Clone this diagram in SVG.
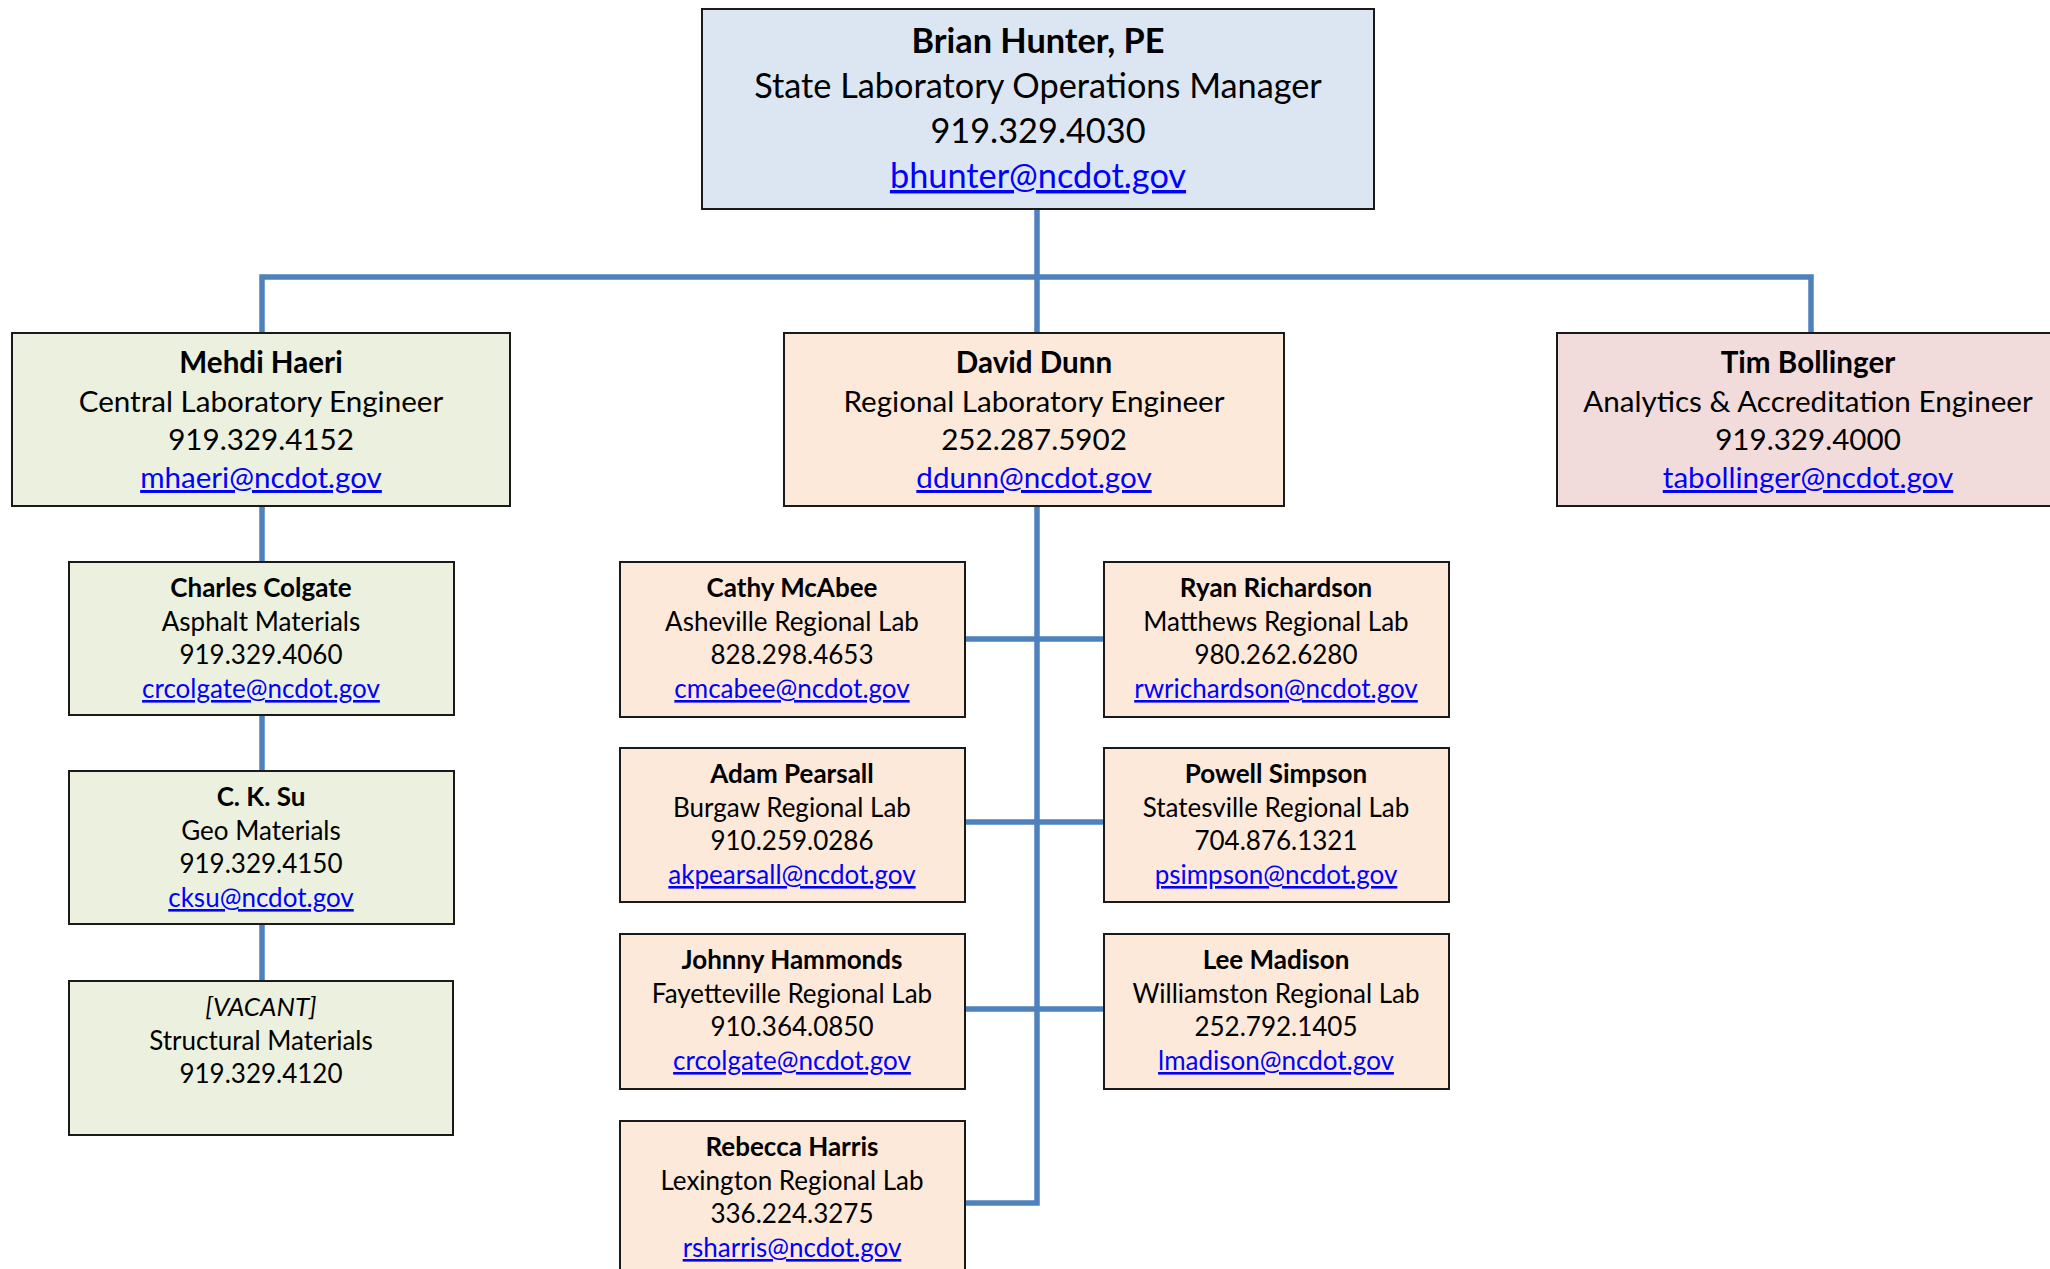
<svg xmlns="http://www.w3.org/2000/svg" width="2050" height="1269" viewBox="0 0 2050 1269">
<style>
.box{stroke:#1a1a1a;stroke-width:2}
.blue{fill:#DCE6F2}.green{fill:#EBF1DE}.peach{fill:#FDE9D9}.pink{fill:#F2DCDB}
text{font-family:Lato,"Liberation Sans",sans-serif;text-anchor:middle;fill:#000}
.t1{font-size:34.3px}.t2{font-size:29.6px}.t3{font-size:26px}
.b{font-weight:bold}.i{font-style:italic}
.m{fill:#0000FF;text-decoration:underline}
.c{fill:none;stroke:#4F81BD;stroke-width:5.5}
</style>
<rect width="2050" height="1269" fill="#fff"/>
<g id="connectors">
<path class="c" d="M1037,209 V333"/>
<path class="c" d="M262,333 V277 H1811 V333"/>
<path class="c" d="M262,506 V562 M262,715 V771 M262,924 V981"/>
<path class="c" d="M1037,506 V1203 H965"/>
<path class="c" d="M965,639 H1104 M965,822 H1104 M965,1009 H1104"/>
</g>
<g id="brian-hunter">
<rect class="box blue" x="702" y="9" width="672" height="200"/>
<text class="t1 b" x="1038" y="53">Brian Hunter, PE</text>
<text class="t1" x="1038" y="98">State Laboratory Operations Manager</text>
<text class="t1" x="1038" y="143">919.329.4030</text>
<text class="t1 m" x="1038" y="188">bhunter@ncdot.gov</text>
</g>
<g id="mehdi-haeri">
<rect class="box green" x="12" y="333" width="498" height="173"/>
<text class="t2 b" x="261" y="373">Mehdi Haeri</text>
<text class="t2" x="261" y="412">Central Laboratory Engineer</text>
<text class="t2" x="261" y="450">919.329.4152</text>
<text class="t2 m" x="261" y="488">mhaeri@ncdot.gov</text>
</g>
<g id="david-dunn">
<rect class="box peach" x="784" y="333" width="500" height="173"/>
<text class="t2 b" x="1034" y="373">David Dunn</text>
<text class="t2" x="1034" y="412">Regional Laboratory Engineer</text>
<text class="t2" x="1034" y="450">252.287.5902</text>
<text class="t2 m" x="1034" y="488">ddunn@ncdot.gov</text>
</g>
<g id="tim-bollinger">
<rect class="box pink" x="1557" y="333" width="502" height="173"/>
<text class="t2 b" x="1808" y="373">Tim Bollinger</text>
<text class="t2" x="1808" y="412">Analytics &amp; Accreditation Engineer</text>
<text class="t2" x="1808" y="450">919.329.4000</text>
<text class="t2 m" x="1808" y="488">tabollinger@ncdot.gov</text>
</g>
<g id="charles-colgate">
<rect class="box green" x="69" y="562" width="385" height="153"/>
<text class="t3 b" x="261" y="597">Charles Colgate</text>
<text class="t3" x="261" y="631">Asphalt Materials</text>
<text class="t3" x="261" y="664">919.329.4060</text>
<text class="t3 m" x="261" y="698">crcolgate@ncdot.gov</text>
</g>
<g id="ck-su">
<rect class="box green" x="69" y="771" width="385" height="153"/>
<text class="t3 b" x="261" y="806">C. K. Su</text>
<text class="t3" x="261" y="840">Geo Materials</text>
<text class="t3" x="261" y="873">919.329.4150</text>
<text class="t3 m" x="261" y="907">cksu@ncdot.gov</text>
</g>
<g id="vacant">
<rect class="box green" x="69" y="981" width="384" height="154"/>
<text class="t3 i" x="261" y="1016">[VACANT]</text>
<text class="t3" x="261" y="1050">Structural Materials</text>
<text class="t3" x="261" y="1083">919.329.4120</text>
</g>
<g id="cathy-mcabee">
<rect class="box peach" x="620" y="562" width="345" height="155"/>
<text class="t3 b" x="792" y="597">Cathy McAbee</text>
<text class="t3" x="792" y="631">Asheville Regional Lab</text>
<text class="t3" x="792" y="664">828.298.4653</text>
<text class="t3 m" x="792" y="698">cmcabee@ncdot.gov</text>
</g>
<g id="ryan-richardson">
<rect class="box peach" x="1104" y="562" width="345" height="155"/>
<text class="t3 b" x="1276" y="597">Ryan Richardson</text>
<text class="t3" x="1276" y="631">Matthews Regional Lab</text>
<text class="t3" x="1276" y="664">980.262.6280</text>
<text class="t3 m" x="1276" y="698">rwrichardson@ncdot.gov</text>
</g>
<g id="adam-pearsall">
<rect class="box peach" x="620" y="748" width="345" height="154"/>
<text class="t3 b" x="792" y="783">Adam Pearsall</text>
<text class="t3" x="792" y="817">Burgaw Regional Lab</text>
<text class="t3" x="792" y="850">910.259.0286</text>
<text class="t3 m" x="792" y="884">akpearsall@ncdot.gov</text>
</g>
<g id="powell-simpson">
<rect class="box peach" x="1104" y="748" width="345" height="154"/>
<text class="t3 b" x="1276" y="783">Powell Simpson</text>
<text class="t3" x="1276" y="817">Statesville Regional Lab</text>
<text class="t3" x="1276" y="850">704.876.1321</text>
<text class="t3 m" x="1276" y="884">psimpson@ncdot.gov</text>
</g>
<g id="johnny-hammonds">
<rect class="box peach" x="620" y="934" width="345" height="155"/>
<text class="t3 b" x="792" y="969">Johnny Hammonds</text>
<text class="t3" x="792" y="1003">Fayetteville Regional Lab</text>
<text class="t3" x="792" y="1036">910.364.0850</text>
<text class="t3 m" x="792" y="1070">crcolgate@ncdot.gov</text>
</g>
<g id="lee-madison">
<rect class="box peach" x="1104" y="934" width="345" height="155"/>
<text class="t3 b" x="1276" y="969">Lee Madison</text>
<text class="t3" x="1276" y="1003">Williamston Regional Lab</text>
<text class="t3" x="1276" y="1036">252.792.1405</text>
<text class="t3 m" x="1276" y="1070">lmadison@ncdot.gov</text>
</g>
<g id="rebecca-harris">
<rect class="box peach" x="620" y="1121" width="345" height="160"/>
<text class="t3 b" x="792" y="1156">Rebecca Harris</text>
<text class="t3" x="792" y="1190">Lexington Regional Lab</text>
<text class="t3" x="792" y="1223">336.224.3275</text>
<text class="t3 m" x="792" y="1257">rsharris@ncdot.gov</text>
</g>
</svg>
